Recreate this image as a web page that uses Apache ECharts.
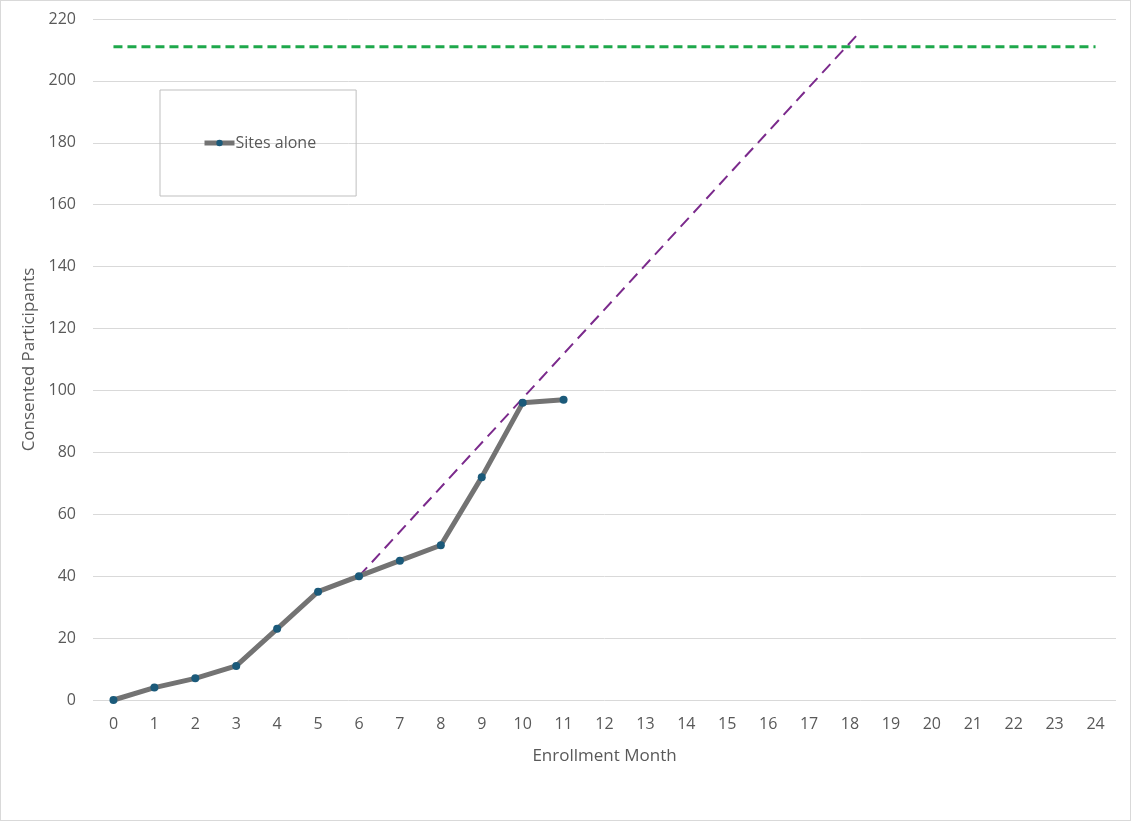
<!DOCTYPE html>
<html>
<head>
<meta charset="utf-8">
<script src="https://cdn.jsdelivr.net/npm/echarts@6/dist/echarts.min.js"></script>
<style>
  html,body{margin:0;padding:0;background:#fff;}
  #chart{width:1129px;height:819px;border:1px solid #d9d9d9;}
</style>
</head>
<body>
<div id="chart"></div>
<script>
// 月份
var months=[];
for(var m=0;m<=24;m++){months.push(String(m));}
// 已同意人数
var sitesAlone=[0,4,7,11,23,35,40,45,50,72,96,97];
// 目标线
var targetValue=211;
// 趋势线两端 [月份, 人数]
var trendLine=[[6,40],[18.15,214.5]];
var yTicks=[0,220,20];

var chart=echarts.init(document.getElementById("chart"));
chart.setOption({
  animation:false,
  textStyle:{fontFamily:"Open Sans"},
  grid:{left:92,right:14,top:18,bottom:120},
  legend:{
    data:[{name:"Sites alone"}],
    left:159,top:89,width:155,height:106,
    padding:[45,40,45,42],
    borderColor:"#bfbfbf",borderWidth:1,
    itemWidth:30,itemHeight:8,itemGap:0,
    itemStyle:{color:"#1b5a7a"},
    lineStyle:{color:"#737373",width:5},
    textStyle:{color:"#595959",fontSize:16,padding:[0,0,0,-4]}
  },
  xAxis:[
    {
      type:"category",
      data:months,
      name:"Enrollment Month",
      nameLocation:"middle",
      nameGap:48,
      nameTextStyle:{color:"#595959",fontSize:17},
      axisLine:{show:false},
      axisTick:{show:false},
      axisLabel:{color:"#595959",fontSize:16,margin:16}
    },
    {
      type:"value",
      min:-0.5,max:24.5,
      show:false
    }
  ],
  yAxis:{
    type:"value",
    min:yTicks[0],max:yTicks[1],interval:yTicks[2],
    name:"Consented Participants",
    nameLocation:"middle",
    nameGap:52,
    nameTextStyle:{color:"#595959",fontSize:17},
    axisLine:{show:false},
    axisTick:{show:false},
    axisLabel:{color:"#595959",fontSize:16,margin:17},
    splitLine:{lineStyle:{color:"#d9d9d9",width:1}}
  },
  series:[
    {
      name:"Sites alone",
      type:"line",
      data:sitesAlone,
      symbol:"circle",
      symbolSize:8,
      lineStyle:{color:"#737373",width:5},
      itemStyle:{color:"#1b5a7a",borderWidth:0},
      z:3
    },
    {
      name:"Target",
      type:"line",
      data:months.map(function(){return targetValue;}),
      symbol:"none",
      lineStyle:{color:"#1ea84b",width:3,type:[9,5]},
      z:2
    },
    {
      name:"Trend",
      type:"line",
      xAxisIndex:1,
      data:trendLine,
      symbol:"none",
      lineStyle:{color:"#7b2a8c",width:2,type:[12,7]},
      z:2
    }
  ]
});
</script>
</body>
</html>
